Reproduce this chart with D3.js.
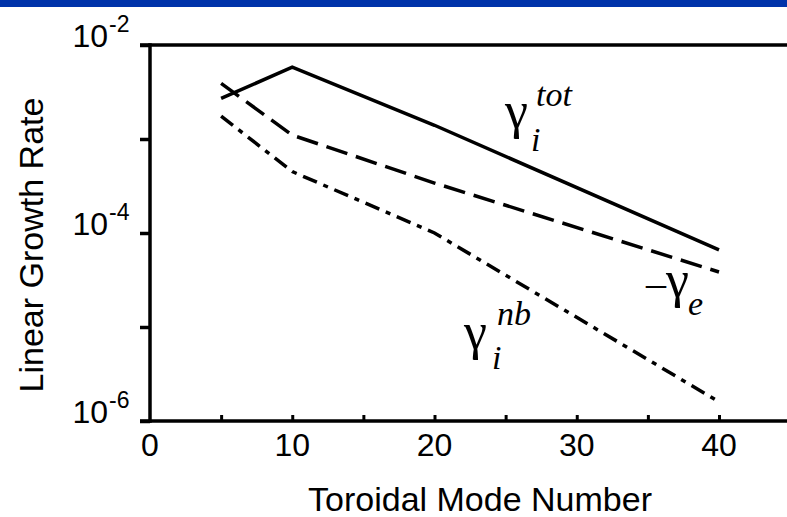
<!DOCTYPE html>
<html>
<head>
<meta charset="utf-8">
<script src="https://cdn.jsdelivr.net/npm/d3@7"></script>
<style>
  body { margin: 0; background: #fff; }
  svg { display: block; }
  .tick-label { font-family: "Liberation Sans", Arial, sans-serif; fill: #000; }
  .title { font-family: "Liberation Sans", Arial, sans-serif; font-size: 34px; fill: #000; }
  .sym { font-family: "Liberation Serif", "Times New Roman", serif; fill: #000; }
</style>
</head>
<body>
<svg id="chart"></svg>
<script>
// toroidal mode numbers and growth rates
const modes = [5, 10, 20, 40];
const gammaTot = [2.7e-3, 5.8e-3, 1.4e-3, 6.6e-5];
const gammaE = [3.9e-3, 1.1e-3, 3.4e-4, 3.85e-5];
const gammaNb = [1.75e-3, 4.5e-4, 1.0e-4, 1.6e-6];

const xTicks = [0, 10, 20, 30, 40];
const xMinorTicks = [5, 10, 15, 20, 25, 30, 35, 40];
const yTicks = [1e-2, 1e-3, 1e-4, 1e-5, 1e-6];
const yLabelExps = [-2, -4, -6];

const width = 787;
const height = 517;

const svg = d3.select("#chart")
  .attr("width", width)
  .attr("height", height);

// blue band along the top of the slide
svg.append("rect")
  .attr("x", 0).attr("y", 0)
  .attr("width", width).attr("height", 7)
  .attr("fill", "#0033aa");

const x = d3.scaleLinear().domain([0, 40]).range([150, 719]);
const y = d3.scaleLog().domain([1e-6, 1e-2]).range([421, 45]);

// left axis: ticks pointing out
svg.append("g")
  .attr("transform", `translate(${x(0)},0)`)
  .call(d3.axisLeft(y).tickValues(yTicks).tickSize(10).tickFormat(""))
  .call(g => g.select(".domain").remove())
  .call(g => g.selectAll(".tick line").attr("stroke", "#000").attr("stroke-width", 3.5));

svg.append("line")
  .attr("x1", x(0)).attr("x2", x(0))
  .attr("y1", y(1e-2) - 1.75).attr("y2", y(1e-6) + 1.75)
  .attr("stroke", "#000").attr("stroke-width", 3.5);

// top border and bottom axis run to the page edge
svg.append("line")
  .attr("x1", x(0) - 10).attr("x2", width)
  .attr("y1", y(1e-2)).attr("y2", y(1e-2))
  .attr("stroke", "#000").attr("stroke-width", 3.5);

svg.append("line")
  .attr("x1", x(0) - 10).attr("x2", width)
  .attr("y1", y(1e-6)).attr("y2", y(1e-6))
  .attr("stroke", "#000").attr("stroke-width", 3.5);

// bottom axis: small ticks pointing in
svg.append("g")
  .attr("transform", `translate(0,${y(1e-6)})`)
  .call(d3.axisTop(x).tickValues(xMinorTicks).tickSize(6).tickFormat(""))
  .call(g => g.select(".domain").remove())
  .call(g => g.selectAll(".tick line").attr("stroke", "#000").attr("stroke-width", 3));

// x tick labels
svg.append("g").selectAll("text")
  .data(xTicks)
  .join("text")
  .attr("class", "tick-label")
  .attr("x", d => x(d))
  .attr("y", 456)
  .attr("text-anchor", "middle")
  .attr("font-size", 32)
  .text(d => d);

// y tick labels as 10 with a raised exponent
const yl = svg.append("g").selectAll("g")
  .data(yLabelExps)
  .join("g")
  .attr("transform", d => `translate(0,${y(Math.pow(10, d))})`);

yl.append("text")
  .attr("class", "tick-label")
  .attr("x", 108)
  .attr("y", 2)
  .attr("text-anchor", "end")
  .attr("font-size", 32)
  .text("10");

yl.append("text")
  .attr("class", "tick-label")
  .attr("x", 109)
  .attr("y", -13)
  .attr("font-size", 23)
  .text(d => "-" + Math.abs(d));

// series
const line = d3.line()
  .x(d => x(d[0]))
  .y(d => y(d[1]));

const series = [
  { vals: gammaTot, dash: null },
  { vals: gammaE, dash: "22 9" },
  { vals: gammaNb, dash: "15 7 5 7" }
];

svg.append("g").selectAll("path")
  .data(series)
  .join("path")
  .attr("d", s => line(d3.zip(modes, s.vals)))
  .attr("fill", "none")
  .attr("stroke", "#000")
  .attr("stroke-width", 3.5)
  .attr("stroke-dasharray", s => s.dash);

// axis titles
svg.append("text")
  .attr("class", "title")
  .attr("x", 480)
  .attr("y", 511)
  .attr("text-anchor", "middle")
  .text("Toroidal Mode Number");

svg.append("text")
  .attr("class", "title")
  .attr("transform", "translate(43,245) rotate(-90)")
  .attr("text-anchor", "middle")
  .text("Linear Growth Rate");

// curve labels
function gammaLabel(gx, gy, sup, supY, sub, subX, subY) {
  const g = svg.append("g");
  g.append("text").attr("class", "sym")
    .attr("x", gx).attr("y", gy)
    .attr("font-size", 52)
    .text("\u03b3");
  if (sup) {
    g.append("text").attr("class", "sym")
      .attr("x", subX + 5).attr("y", supY)
      .attr("font-size", 34).attr("font-style", "italic")
      .text(sup);
  }
  g.append("text").attr("class", "sym")
    .attr("x", subX).attr("y", subY)
    .attr("font-size", 34).attr("font-style", "italic")
    .text(sub);
}

gammaLabel(505, 128, "tot", 106, "i", 531, 151);
gammaLabel(464, 349, "nb", 325, "i", 492, 369);
gammaLabel(666, 297, null, 0, "e", 688, 315);

svg.append("text").attr("class", "sym")
  .attr("x", 646).attr("y", 296)
  .attr("font-size", 40)
  .text("\u2013");
</script>
</body>
</html>
